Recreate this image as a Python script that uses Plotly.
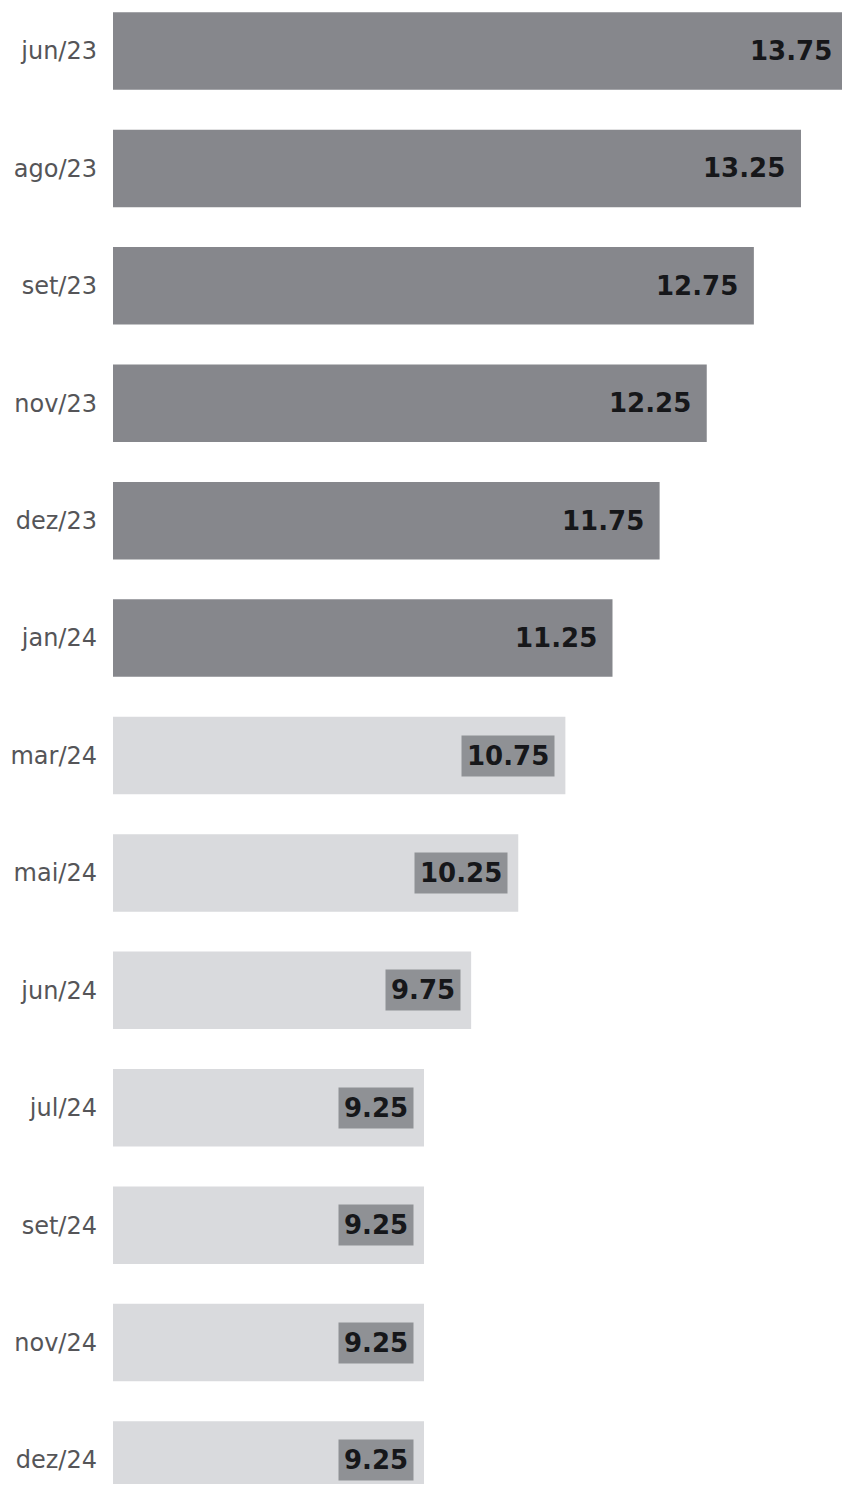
import plotly.graph_objects as go

dates = ["jun/23", "ago/23", "set/23", "nov/23", "dez/23", "jan/24",
         "mar/24", "mai/24", "jun/24", "jul/24", "set/24", "nov/24", "dez/24"]
rates = [13.75, 13.25, 12.75, 12.25, 11.75, 11.25,
         10.75, 10.25, 9.75, 9.25, 9.25, 9.25, 9.25]
n_dark = 6  # first meetings shown in dark grey

DARK = "#86878c"
LIGHT = "#d9dadd"
BOX = "#8f9195"

colors = [DARK if i < n_dark else LIGHT for i in range(len(dates))]

fig = go.Figure()
fig.add_trace(go.Bar(
    y=dates, x=rates, orientation="h",
    marker=dict(color=colors, line=dict(width=0)),
    width=0.66, hoverinfo="skip",
))

for i, (d, v) in enumerate(zip(dates, rates)):
    dark = i < n_dark
    fig.add_annotation(
        x=v, y=d, xref="x", yref="y",
        text=f"<b>{v:.2f}</b>",
        showarrow=False, xanchor="right", yanchor="middle",
        xshift=-15 if dark else -10,
        font=dict(family="DejaVu Sans", size=26, color="#16171a"),
        bgcolor=None if dark else BOX,
        borderpad=5 if not dark else 0,
    )

fig.update_layout(
    width=842, height=1476,
    margin=dict(l=105, r=0, t=0, b=0, autoexpand=False),
    paper_bgcolor="white", plot_bgcolor="white",
    showlegend=False,
    xaxis=dict(range=[5.95, 13.77], showgrid=False, zeroline=False,
               showticklabels=False, fixedrange=True, automargin=False),
    yaxis=dict(type="category", categoryorder="array", categoryarray=dates,
               range=[12.204, -0.366], showgrid=False, zeroline=False,
               ticks="", ticklabelstandoff=15, automargin=False,
               tickfont=dict(family="DejaVu Sans", size=24, color="#555558")),
)

fig.write_html("out.html")
